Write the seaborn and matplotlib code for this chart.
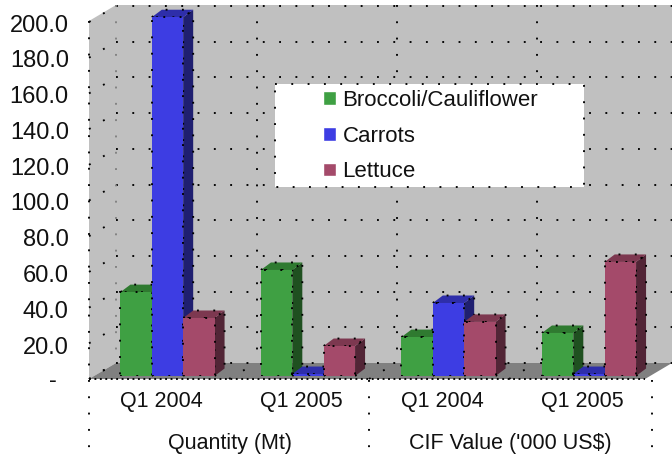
import numpy as np
import pandas as pd
import seaborn as sns
import matplotlib.pyplot as plt
from matplotlib.patches import Polygon, Rectangle
from matplotlib.transforms import ScaledTranslation

groups = ['qty_2004', 'qty_2005', 'cif_2004', 'cif_2005']
quarter_labels = ['Q1 2004', 'Q1 2005', 'Q1 2004', 'Q1 2005']
broccoli = [47.0, 59.4, 21.8, 24.1]
carrots = [201.0, 1.1, 40.9, 1.1]
lettuce = [32.5, 16.8, 30.3, 63.9]
y_ticks = [0, 20, 40, 60, 80, 100, 120, 140, 160, 180, 200]
y_labels = ['-', '20.0', '40.0', '60.0', '80.0', '100.0', '120.0', '140.0', '160.0', '180.0', '200.0']
unit_labels = ['Quantity (Mt)', "CIF Value ('000 US$)"]

W, H = 672, 454
front = {'Broccoli/Cauliflower': '#3fa043', 'Carrots': '#3d3de3', 'Lettuce': '#a44a6a'}
top = {'Broccoli/Cauliflower': '#2f7a30', 'Carrots': '#2e2eaa', 'Lettuce': '#7d3850'}
side = {'Broccoli/Cauliflower': '#1f5020', 'Carrots': '#1f1f70', 'Lettuce': '#522536'}

sns.set_theme(style='white')
plt.rcParams['font.family'] = ['Liberation Sans', 'DejaVu Sans']
FS = 15.5
LW = 1.35
DOT = (0, (1, 7.7))
DOT_FINE = (0, (1, 1.9))

df = pd.DataFrame({'group': groups, 'Broccoli/Cauliflower': broccoli, 'Carrots': carrots, 'Lettuce': lettuce})
long = df.melt(id_vars='group', var_name='series', value_name='value')

fig = plt.figure(figsize=(W / 100, H / 100), dpi=100)

# background layer in pixel coordinates: walls, floor, dotted grid
bg = fig.add_axes([0, 0, 1, 1])
bg.set_xlim(0, W)
bg.set_ylim(H, 0)
bg.axis('off')
bg.add_patch(Polygon([(89, 21), (116, 5), (672, 5), (672, 363), (116, 363), (89, 379)], color='#c0c0c0', lw=0))
bg.add_patch(Polygon([(89, 379), (116, 363), (672, 363), (645, 379)], color='#808080', lw=0))


def dots(xs, ys, ls=DOT, color='black', lw=LW, z=2):
    bg.plot(xs, ys, color=color, lw=lw, ls=ls, dash_capstyle='butt', zorder=z)


for v in y_ticks:
    y = 363 - 1.785 * v
    dots([116, 672], [y, y])
    dots([89, 116], [y + 16, y])
dots([89, 89], [21, 379])
dots([116, 116], [5, 363], color='#808080')
for x in [257, 397, 537]:
    dots([x, x], [5, 363])
for x in [89, 229, 369, 509]:
    dots([x, x + 27], [379, 363])
dots([89, 645], [379, 379], ls=DOT_FINE)
for x in [89, 369, 652]:
    dots([x, x], [380, H])

# white legend box over the wall
bg.add_patch(Rectangle((275, 84), 309, 103, facecolor='white', edgecolor='black', lw=LW, ls=DOT, zorder=3))

# bars, one group is 140.5 px wide, zero sits on y=376
ax = fig.add_axes([97.25 / W, (H - 376) / H, 562 / W, 371 / H])
sns.barplot(data=long, x='group', y='value', hue='series', order=groups, palette=front,
            width=0.67, gap=0, saturation=1, ax=ax)
ax.set_ylim(0, 371 / 1.785)
ax.patch.set_alpha(0)
ax.set_xlabel('')
ax.set_ylabel('')
ax.set_yticks([])
ax.set_xticks(range(len(groups)))
ax.set_xticklabels(quarter_labels, fontsize=FS, color='#111111')
ax.tick_params(axis='x', length=0, pad=10.5)
for lab in ax.get_xticklabels():
    lab.set_transform(lab.get_transform() + ScaledTranslation(-6.5 / 100, 0, fig.dpi_scale_trans))
sns.despine(ax=ax, left=True, bottom=True)

dx = 10 * 4 / 562
dy = 7.5 / 1.785
for name, cont in zip(front, ax.containers):
    for bar in cont:
        x0, h = bar.get_x(), bar.get_height()
        w = bar.get_width()
        ax.add_patch(Polygon([(x0 + w, 0), (x0 + w + dx, dy), (x0 + w + dx, h + dy), (x0 + w, h)],
                             facecolor=side[name], edgecolor='black', lw=LW, ls=DOT, zorder=2, clip_on=False))
        ax.add_patch(Polygon([(x0, h), (x0 + dx, h + dy), (x0 + w + dx, h + dy), (x0 + w, h)],
                             facecolor=top[name], edgecolor='black', lw=LW, ls=DOT, zorder=2, clip_on=False))
        bar.set_edgecolor('black')
        bar.set_linewidth(LW)
        bar.set_linestyle(DOT)
        bar.set_zorder(3)

sns.move_legend(ax, 'upper left', bbox_to_anchor=(323 / W, 1 - 90 / H), bbox_transform=fig.transFigure,
                frameon=False, title=None, fontsize=16, borderpad=0, borderaxespad=0,
                handlelength=0.58, handleheight=0.58, handletextpad=0.3, labelspacing=0.66)
for t in ax.get_legend().get_texts():
    t.set_color('#111111')

# value labels sit on their own scale, slightly tighter than the bars
ay = fig.add_axes([89 / W, (H - 381) / H, 10 / W, 358 / H])
ay.set_ylim(0, 200)
ay.set_xticks([])
ay.set_yticks(y_ticks)
ay.set_yticklabels(y_labels, fontsize=17, color='#111111')
ay.tick_params(axis='y', length=0, pad=14.5)
ay.patch.set_alpha(0)
sns.despine(ax=ay, left=True, bottom=True)
first = ay.get_yticklabels()[0]
first.set_transform(first.get_transform() + ScaledTranslation(-12 / 100, 2 / 100, fig.dpi_scale_trans))

bg.text(229.5, 443, unit_labels[0], fontsize=FS, color='#111111', ha='center', va='center')
bg.text(510, 443, unit_labels[1], fontsize=FS, color='#111111', ha='center', va='center')

fig.savefig('out.png', dpi=100)
